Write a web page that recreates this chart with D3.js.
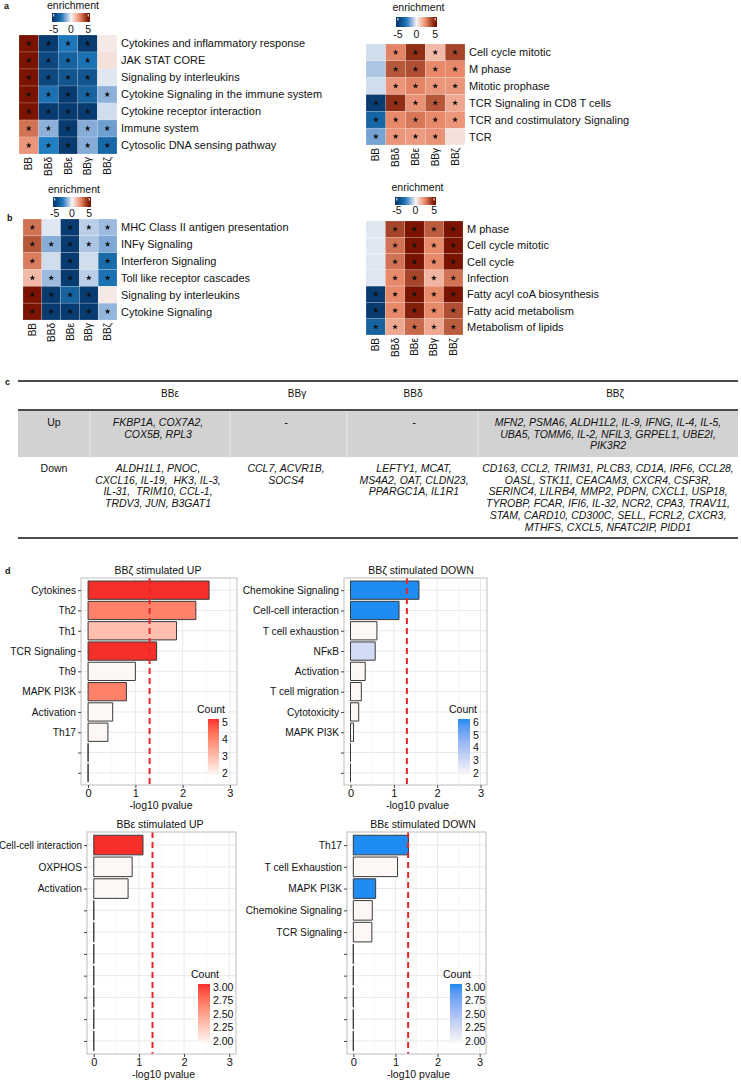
<!DOCTYPE html>
<html><head><meta charset="utf-8">
<script src="https://cdn.jsdelivr.net/npm/d3@7"></script>
<style>
body{margin:0;background:#fff;}
svg{display:block;font-family:"Liberation Sans",Arial,sans-serif;}
</style></head><body>
<svg id="fig" width="741" height="1084"></svg>
<script>
// ---------------- DATA ----------------
const heatCols = ["BB","BBδ","BBε","BBγ","BBζ"];
const enrichTicks = [-5, 0, 5];

const aLeftRows = ["Cytokines and inflammatory response","JAK STAT CORE","Signaling by interleukins","Cytokine Signaling in the immune system","Cytokine receptor interaction","Immune system","Cytosolic DNA sensing pathway"];
const aLeftVals = [
  [5,-5,-2.8,-5,0.3],
  [5,-4.5,-3.5,-3,0.5],
  [5,-4.5,-4,-4,-0.3],
  [5,-3,-5,-3.5,-1.4],
  [5,-5,-5,-5,-0.5],
  [3,-1.4,-5,-1.5,-1.8],
  [2.2,-2.5,-5,-1.5,-3.3]];
const aLeftStars = [[1,1,1,1,0],[1,1,1,1,0],[1,1,1,1,0],[1,1,1,1,1],[1,1,1,1,0],[1,1,1,1,1],[1,1,1,1,1]];

const aRightRows = ["Cell cycle mitotic","M phase","Mitotic prophase","TCR Signaling in CD8 T cells","TCR and costimulatory Signaling","TCR"];
const aRightVals = [
  [-0.5,2.6,4.5,1.4,4],
  [-1,3.6,3.8,2.5,2.5],
  [-0.5,2.2,2.6,2.2,2.2],
  [-5,4.5,2.3,3.6,1.8],
  [-3.4,2.5,2.9,2.5,2.2],
  [-1.7,2.2,2.1,2.3,0.5]];
const aRightStars = [[0,1,1,1,1],[0,1,1,1,1],[0,1,1,1,1],[1,1,1,1,1],[1,1,1,1,1],[1,1,1,1,0]];

const bLeftRows = ["MHC Class II antigen presentation","INFγ Signaling","Interferon Signaling","Toll like receptor cascades","Signaling by interleukins","Cytokine Signaling"];
const bLeftVals = [
  [3,-0.3,-5,-0.8,-1.2],
  [3.6,-1.5,-5,-1,-1.6],
  [2.8,-0.5,-5,-0.5,-3.2],
  [1.4,-1.2,-5,-0.8,-3],
  [5,-5,-3.5,-5,0.3],
  [5,-5,-5,-5,-1.3]];
const bLeftStars = [[1,0,1,1,1],[1,1,1,1,1],[1,0,1,0,1],[1,1,1,1,1],[1,1,1,1,0],[1,1,1,1,1]];

const bRightRows = ["M phase","Cell cycle mitotic","Cell cycle","Infection","Fatty acyl coA biosynthesis","Fatty acid metabolism","Metabolism of lipids"];
const bRightVals = [
  [-0.3,4,5,3.5,5],
  [-0.3,3,5,2.5,5],
  [-0.3,3,5,2.5,5],
  [-0.3,2.5,4,1.5,3],
  [-5,2.5,5,2.5,5],
  [-5,2.5,4.8,2.5,3.8],
  [-3.5,1.8,3.2,1.8,3.5]];
const bRightStars = [[0,1,1,1,1],[0,1,1,1,1],[0,1,1,1,1],[0,1,1,1,1],[1,1,1,1,1],[1,1,1,1,1],[1,1,1,1,1]];

const tableCols = ["BBε","BBγ","BBδ","BBζ"];
const tableRowNames = ["Up","Down"];
const upGenes = [
  ["FKBP1A, COX7A2,","COX5B, RPL3"],
  ["-"],
  ["-"],
  ["MFN2, PSMA6, ALDH1L2, IL-9, IFNG, IL-4, IL-5,","UBA5, TOMM6, IL-2, NFIL3, GRPEL1, UBE2I,","PIK3R2"]];
const downGenes = [
  ["ALDH1L1, PNOC,","CXCL16, IL-19,  HK3, IL-3,","IL-31,  TRIM10, CCL-1,","TRDV3, JUN, B3GAT1"],
  ["CCL7, ACVR1B,","SOCS4"],
  ["LEFTY1, MCAT,","MS4A2, OAT, CLDN23,","PPARGC1A, IL1R1"],
  ["CD163, CCL2, TRIM31, PLCB3, CD1A, IRF6, CCL28,","OASL, STK11, CEACAM3, CXCR4, CSF3R,","SERINC4, LILRB4, MMP2, PDPN, CXCL1, USP18,","TYROBP, FCAR, IFI6, IL-32, NCR2, CPA3, TRAV11,","STAM, CARD10, CD300C, SELL, FCRL2, CXCR3,","MTHFS, CXCL5, NFATC2IP, PIDD1"]];

const xTicks = [0,1,2,3];
const pThreshold = 1.301;

const d1Cats = ["Cytokines","Th2","Th1","TCR Signaling","Th9","MAPK PI3K","Activation","Th17","",""];
const d1Vals = [2.56,2.28,1.87,1.45,1.0,0.81,0.52,0.42,0,0];
const d1Counts = [5,4,3,5,2,4,2,2,2,2];
const d1LegendTicks = [2,3,4,5];

const d2Cats = ["Chemokine Signaling","Cell-cell interaction","T cell exhaustion","NFκB","Activation","T cell migration","Cytotoxicity","MAPK PI3K","",""];
const d2Vals = [1.58,1.12,0.61,0.57,0.34,0.25,0.19,0.07,0,0];
const d2Counts = [6,6,2,3,2,2,2,2,2,2];
const d2LegendTicks = [2,3,4,5,6];

const d3Cats = ["Cell-cell interaction","OXPHOS","Activation","","","","","","",""];
const d3Vals = [1.09,0.85,0.76,0,0,0,0,0,0,0];
const d3Counts = [3,2,2,2,2,2,2,2,2,2];
const d3LegendTicks = [2,2.25,2.5,2.75,3];

const d4Cats = ["Th17","T cell Exhaustion","MAPK PI3K","Chemokine Signaling","TCR Signaling","","","","",""];
const d4Vals = [1.31,1.05,0.53,0.45,0.44,0,0,0,0,0];
const d4Counts = [3,2,3,2,2,2,2,2,2,2];
const d4LegendTicks = [2,2.25,2.5,2.75,3];

// ---------------- DRAW ----------------
const svg = d3.select("#fig");
const defs = svg.append("defs");
const TXT = "#111";

const heatColor = d3.scaleLinear()
  .domain([-5,-2.5,0,2.5,5])
  .range(["#083b70","#1f7fc2","#f4f6f8","#e8896a","#7a1400"])
  .interpolate(d3.interpolateLab).clamp(true);

[["a",4,9],["b",7,221],["c",5,385],["d",5,574]].forEach(([t,x,y])=>{
  svg.append("text").attr("x",x).attr("y",y).attr("font-size",9).attr("font-weight","bold").attr("fill",TXT).text(t);
});

let gradId = 0;
function heatmap(cfg){
  const g = svg.append("g");
  const x = d3.scaleBand().domain(heatCols).range([cfg.x0,cfg.x1]);
  const y = d3.scaleBand().domain(cfg.rows).range([cfg.y0,cfg.y1]);
  const cells = cfg.rows.flatMap((r,i)=>heatCols.map((c,j)=>({r,c,v:cfg.vals[i][j],s:cfg.stars[i][j]})));
  g.selectAll("rect.cell").data(cells).join("rect")
    .attr("x",d=>x(d.c)).attr("y",d=>y(d.r))
    .attr("width",x.bandwidth()).attr("height",y.bandwidth())
    .attr("fill",d=>heatColor(d.v))
    .attr("stroke","#ffffff").attr("stroke-opacity",0.35).attr("stroke-width",0.5);
  g.selectAll("path.star").data(cells.filter(d=>d.s)).join("path")
    .attr("d",d3.symbol(d3.symbolStar,11))
    .attr("transform",d=>`translate(${x(d.c)+x.bandwidth()/2},${y(d.r)+y.bandwidth()/2})`)
    .attr("fill","#111");
  g.selectAll("text.row").data(cfg.rows).join("text")
    .attr("x",cfg.labelX).attr("y",d=>y(d)+y.bandwidth()/2).attr("dy","0.36em")
    .attr("font-size",11).attr("fill",TXT).text(d=>d);
  g.selectAll("text.col").data(heatCols).join("text")
    .attr("transform",d=>`translate(${x(d)+x.bandwidth()/2+3.5},${cfg.y1+3}) rotate(-90)`)
    .attr("text-anchor","end").attr("font-size",10).attr("fill",TXT).text(d=>d);
  // colorbar
  const id = "hg"+(gradId++);
  const cbx = d3.scaleLinear().domain([-5.5,5.5]).range([cfg.cb[0],cfg.cb[1]]);
  const lg = defs.append("linearGradient").attr("id",id).attr("x1","0%").attr("x2","100%");
  d3.range(0,1.0001,0.05).forEach(t=>{
    lg.append("stop").attr("offset",(t*100)+"%").attr("stop-color",heatColor(-5.5+11*t));
  });
  g.append("rect").attr("x",cfg.cb[0]).attr("y",cfg.cb[2]).attr("width",cfg.cb[1]-cfg.cb[0]).attr("height",cfg.cb[3]-cfg.cb[2]).attr("fill",`url(#${id})`);
  g.selectAll("line.cbt").data([-5,5]).join("line")
    .attr("x1",d=>cbx(d)).attr("x2",d=>cbx(d)).attr("y1",cfg.cb[2]+1).attr("y2",cfg.cb[2]+3.5)
    .attr("stroke","#fff").attr("stroke-width",1);
  g.selectAll("text.cbl").data(enrichTicks).join("text")
    .attr("x",d=>cbx(d)).attr("y",cfg.tickY).attr("text-anchor","middle")
    .attr("font-size",10.5).attr("fill",TXT).text(d=>d===-5?"-5":d);
  g.append("text").attr("x",(cfg.cb[0]+cfg.cb[1])/2+2).attr("y",cfg.titleY).attr("text-anchor","middle")
    .attr("font-size",10.5).attr("fill",TXT).text("enrichment");
}

heatmap({rows:aLeftRows,vals:aLeftVals,stars:aLeftStars,x0:19,x1:117,y0:35,y1:154,labelX:121,cb:[52,90,13,22],tickY:33,titleY:9});
heatmap({rows:aRightRows,vals:aRightVals,stars:aRightStars,x0:366,x1:465,y0:44,y1:145,labelX:469,cb:[396,437,17,27],tickY:38,titleY:11});
heatmap({rows:bLeftRows,vals:bLeftVals,stars:bLeftStars,x0:23,x1:117,y0:219,y1:320,labelX:121,cb:[53,91,197,207],tickY:217,titleY:193});
heatmap({rows:bRightRows,vals:bRightVals,stars:bRightStars,x0:366,x1:463,y0:221,y1:335,labelX:467,cb:[395,436,197,205],tickY:214,titleY:191});

// ---------------- TABLE ----------------
const tg = svg.append("g");
const tX0 = 18, tX1 = 738;
tg.append("rect").attr("x",tX0).attr("y",411).attr("width",tX1-tX0).attr("height",46).attr("fill","#d2d2d2");
[[381,1.6],[410,1.6],[538,1.6]].forEach(([y,w])=>{
  tg.append("line").attr("x1",tX0).attr("x2",tX1).attr("y1",y).attr("y2",y).attr("stroke","#111").attr("stroke-width",w);
});
const colSeps = [90,230,347,478];
tg.selectAll("line.sep").data(colSeps).join("line")
  .attr("x1",d=>d).attr("x2",d=>d).attr("y1",411).attr("y2",457)
  .attr("stroke","#ebebeb").attr("stroke-width",1);
const headerX = [170,297,413,615];
const geneX = [158,286,414,608];
tg.selectAll("text.hdr").data(tableCols).join("text")
  .attr("x",(d,i)=>headerX[i]).attr("y",397).attr("text-anchor","middle")
  .attr("font-size",10).attr("fill",TXT).text(d=>d);
tg.selectAll("text.rn").data(tableRowNames).join("text")
  .attr("x",54).attr("y",(d,i)=>[426,472][i]).attr("text-anchor","middle")
  .attr("font-size",10.5).attr("fill",TXT).text(d=>d);
function geneBlock(list, y0){
  list.forEach((lines,ci)=>{
    lines.forEach((ln,li)=>{
      tg.append("text").attr("x",geneX[ci]).attr("y",y0+li*11.7).attr("text-anchor","middle")
        .attr("font-size",10.5).attr("font-style","italic").attr("fill",TXT)
        .attr("xml:space","preserve").text(ln);
    });
  });
}
geneBlock(upGenes,426);
geneBlock(downGenes,472);

// ---------------- BAR CHARTS ----------------
let lgId = 0;
function barChart(cfg){
  const g = svg.append("g");
  const n = cfg.cats.length;
  const x = d3.scaleLinear().domain([-0.15,3.15]).range([cfg.px0,cfg.px1]);
  const y = d3.scalePoint().domain(d3.range(n)).range([cfg.py0,cfg.py1]).padding(0.6);
  const step = y.step();
  const fill = d3.scaleLinear().domain([cfg.cmin,cfg.cmax]).range(["#fdf8f6",cfg.hi]).interpolate(d3.interpolateLab).clamp(true);
  // panel bg & grid
  g.append("rect").attr("x",cfg.px0).attr("y",cfg.py0).attr("width",cfg.px1-cfg.px0).attr("height",cfg.py1-cfg.py0).attr("fill","#fff");
  g.selectAll("line.gmin").data([0.5,1.5,2.5]).join("line")
    .attr("x1",d=>x(d)).attr("x2",d=>x(d)).attr("y1",cfg.py0).attr("y2",cfg.py1)
    .attr("stroke","#f2f2f2").attr("stroke-width",0.6);
  g.selectAll("line.gmaj").data(xTicks).join("line")
    .attr("x1",d=>x(d)).attr("x2",d=>x(d)).attr("y1",cfg.py0).attr("y2",cfg.py1)
    .attr("stroke","#e6e6e6").attr("stroke-width",0.9);
  g.selectAll("line.gy").data(d3.range(n)).join("line")
    .attr("x1",cfg.px0).attr("x2",cfg.px1).attr("y1",d=>y(d)).attr("y2",d=>y(d))
    .attr("stroke","#e6e6e6").attr("stroke-width",0.9);
  // bars
  const data = cfg.cats.map((c,i)=>({i,c,v:cfg.vals[i],k:cfg.counts[i]}));
  g.selectAll("path.bar").data(data).join("path")
    .attr("d",d=>{
      const p = d3.path();
      const x0 = x(0), x1 = x(d.v), yt = y(d.i)-step*0.45, h = step*0.9;
      p.moveTo(x0,yt); p.lineTo(x1,yt); p.lineTo(x1,yt+h); p.lineTo(x0,yt+h); p.closePath();
      return p.toString();
    })
    .attr("fill",d=>fill(d.k)).attr("stroke","#3a3a3a").attr("stroke-width",1);
  // threshold
  g.append("line").attr("x1",x(pThreshold)).attr("x2",x(pThreshold)).attr("y1",cfg.py0).attr("y2",cfg.py1)
    .attr("stroke","#e8262a").attr("stroke-width",2).attr("stroke-dasharray","6,4");
  // border
  g.append("rect").attr("x",cfg.px0).attr("y",cfg.py0).attr("width",cfg.px1-cfg.px0).attr("height",cfg.py1-cfg.py0)
    .attr("fill","none").attr("stroke","#bdbdbd").attr("stroke-width",1);
  // axes
  const ax = g.append("g").attr("transform",`translate(0,${cfg.py1})`)
    .call(d3.axisBottom(x).tickValues(xTicks).tickFormat(d3.format("d")).tickSize(3).tickPadding(1.5));
  const ay = g.append("g").attr("transform",`translate(${cfg.px0},0)`)
    .call(d3.axisLeft(y).tickSize(3).tickPadding(2).tickFormat(i=>cfg.cats[i]));
  [ax,ay].forEach(a=>{
    a.select(".domain").remove();
    a.selectAll(".tick line").attr("stroke","#444");
    a.selectAll(".tick text").attr("fill",TXT).attr("font-family","Liberation Sans, Arial, sans-serif");
  });
  ax.selectAll(".tick text").attr("font-size",11);
  const maxW = cfg.px0 < 300 ? cfg.px0 - 4 : 9999;
  ay.selectAll(".tick text").attr("font-size",10.2).each(function(){
    const w = this.getComputedTextLength();
    if (w > maxW) d3.select(this).attr("textLength",maxW).attr("lengthAdjust","spacingAndGlyphs");
  });
  // titles
  g.append("text").attr("x",cfg.titleX).attr("y",cfg.py0-4).attr("text-anchor","middle")
    .attr("font-size",10.5).attr("fill",TXT).text(cfg.title);
  g.append("text").attr("x",(cfg.px0+cfg.px1)/2+2).attr("y",cfg.py1+24).attr("text-anchor","middle")
    .attr("font-size",10.5).attr("fill",TXT).text("-log10 pvalue");
  // legend
  const L = cfg.leg;
  const id = "lg"+(lgId++);
  const grad = defs.append("linearGradient").attr("id",id).attr("x1","0%").attr("x2","0%").attr("y1","100%").attr("y2","0%");
  d3.range(0,1.0001,0.1).forEach(t=>{
    grad.append("stop").attr("offset",(t*100)+"%").attr("stop-color",fill(cfg.cmin+(cfg.cmax-cfg.cmin)*t));
  });
  g.append("rect").attr("x",L.x0).attr("y",L.y0).attr("width",L.x1-L.x0).attr("height",L.y1-L.y0).attr("fill",`url(#${id})`);
  const ly = d3.scaleLinear().domain([cfg.cmin,cfg.cmax]).range([L.y1-2,L.y0+3]);
  g.selectAll("text.lt").data(cfg.legTicks).join("text")
    .attr("x",L.x1+3).attr("y",d=>ly(d)).attr("dy","0.36em")
    .attr("font-size",10.5).attr("fill",TXT).text(d=>cfg.fmt(d));
  g.append("text").attr("x",L.tx).attr("y",L.y0-6).attr("font-size",10.5).attr("fill",TXT).text("Count");
}

barChart({cats:d1Cats,vals:d1Vals,counts:d1Counts,cmin:2,cmax:5,hi:"#f72f2b",px0:81,px1:237,py0:578,py1:785,
  title:"BBζ stimulated UP",titleX:158,legTicks:d1LegendTicks,fmt:d3.format("d"),
  leg:{x0:208,x1:219,y0:719,y1:775,tx:197}});
barChart({cats:d2Cats,vals:d2Vals,counts:d2Counts,cmin:2,cmax:6,hi:"#1e8cf2",px0:344,px1:487,py0:578,py1:785,
  title:"BBζ stimulated DOWN",titleX:421,legTicks:d2LegendTicks,fmt:d3.format("d"),
  leg:{x0:458,x1:470,y0:719,y1:775,tx:449}});
barChart({cats:d3Cats,vals:d3Vals,counts:d3Counts,cmin:2,cmax:3,hi:"#f72f2b",px0:87,px1:236,py0:832,py1:1054,
  title:"BBε stimulated UP",titleX:160,legTicks:d3LegendTicks,fmt:d3.format(".2f"),
  leg:{x0:198,x1:210,y0:984,y1:1043,tx:191}});
barChart({cats:d4Cats,vals:d4Vals,counts:d4Counts,cmin:2,cmax:3,hi:"#1e8cf2",px0:347,px1:486,py0:832,py1:1054,
  title:"BBε stimulated DOWN",titleX:423,legTicks:d4LegendTicks,fmt:d3.format(".2f"),
  leg:{x0:450,x1:462,y0:984,y1:1043,tx:443}});
</script></body></html>
